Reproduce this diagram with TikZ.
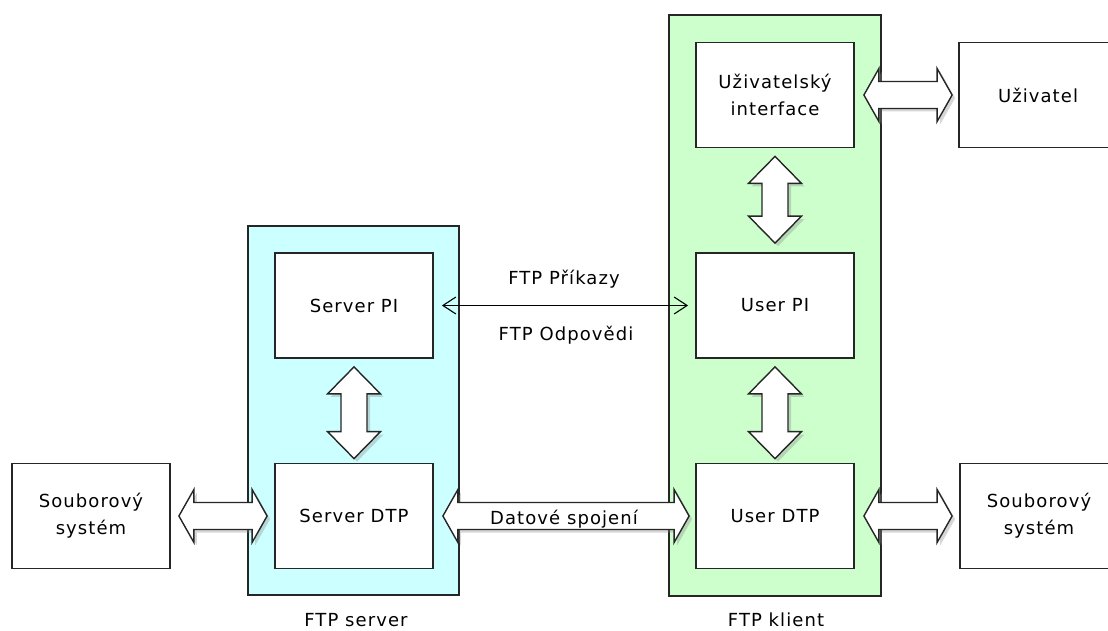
\documentclass[tikz,border=0pt]{standalone}
\usepackage{fontspec}
\setmainfont[LetterSpace=6]{DejaVu Sans}
\usetikzlibrary{arrows.meta,calc,shadows}
\definecolor{srvfill}{RGB}{204,255,255}
\definecolor{clifill}{RGB}{204,255,204}
\tikzset{
  box/.style={draw=black!85, line width=1.8pt, fill=white, minimum width=158pt,
    minimum height=105pt, align=center, inner sep=0pt, font=\fontsize{18}{27}\selectfont},
  grp/.style={draw=black!85, line width=1.7pt, inner sep=0pt},
  fat/.style={draw=black!85, line width=1.4pt, fill=white, line join=miter,
    drop shadow={shadow xshift=3pt, shadow yshift=-3pt, opacity=0.35, fill=black!45}},
  thinarrow/.style={draw=black, line width=1.1pt,
    {Straight Barb[length=13pt,width=17pt]}-{Straight Barb[length=13pt,width=17pt]}},
  lab/.style={font=\fontsize{18}{24}\selectfont, inner sep=0pt, anchor=base},
}
\newcommand\fatH[2]{\draw[fat] let \p1=#1, \p2=#2 in
  (\x1,\y1) -- (\x1+15pt,\y1+26.5pt) -- (\x1+15pt,\y1+13.5pt) -- (\x2-15pt,\y1+13.5pt)
  -- (\x2-15pt,\y1+26.5pt) -- (\x2,\y1) -- (\x2-15pt,\y1-26.5pt) -- (\x2-15pt,\y1-13.5pt)
  -- (\x1+15pt,\y1-13.5pt) -- (\x1+15pt,\y1-26.5pt) -- cycle;}
\newcommand\fatV[2]{\draw[fat] let \p1=#1, \p2=#2 in
  (\x1,\y1) -- (\x1+26.5pt,\y1-27pt) -- (\x1+13pt,\y1-27pt) -- (\x1+13pt,\y2+27pt)
  -- (\x1+26.5pt,\y2+27pt) -- (\x1,\y2) -- (\x1-26.5pt,\y2+27pt) -- (\x1-13pt,\y2+27pt)
  -- (\x1-13pt,\y1-27pt) -- (\x1-26.5pt,\y1-27pt) -- cycle;}
\begin{document}
\begin{tikzpicture}[x=1pt,y=1pt]
\useasboundingbox[fill=white] (0,0) rectangle (1108,-631);
% groups
\node[grp, fill=srvfill, minimum width=211pt, minimum height=369pt] (srv) at (353.5,-410.5) {};
\node[grp, fill=clifill, minimum width=212pt, minimum height=581pt] (cli) at (775,-305.5) {};
% boxes
\node[box] (sfsL) at (91,-516) {Souborový\\systém};
\node[box] (srvpi) at (354,-305.5) {Server PI};
\node[box] (srvdtp) at (354,-516) {Server DTP};
\node[box] (ui) at (775,-95) {Uživatelský\\interface};
\node[box] (upi) at (775,-305.5) {User PI};
\node[box] (udtp) at (775,-516) {User DTP};
\node[box] (user) at (1038,-95) {Uživatel};
\node[box] (sfsR) at (1039,-516) {Souborový\\systém};
% fat arrows
\fatH{($(sfsL.east)+(8,0)$)}{($(srvdtp.west)-(7,0)$)}
\fatH{($(srvdtp.east)+(9,0)$)}{($(udtp.west)-(6,0)$)}
\fatH{($(ui.east)+(9,0)$)}{($(user.west)-(6,0)$)}
\fatH{($(udtp.east)+(9,0)$)}{($(sfsR.west)-(7,0)$)}
\fatV{($(srvpi.south)-(0,8)$)}{($(srvdtp.north)+(0,4)$)}
\fatV{($(ui.south)-(0,8)$)}{($(upi.north)+(0,9)$)}
\fatV{($(upi.south)-(0,8)$)}{($(udtp.north)+(0,4)$)}
% thin arrow
\draw[thinarrow] ($(srvpi.east)+(8,0)$) -- ($(upi.west)-(7,0)$);
% labels
\node[lab] (cmd) at (564,-284) {FTP Příkazy};
\node[lab] (rep) at (566,-340) {FTP Odpovědi};
\node[lab] (data) at (564,-524) {Datové spojení};
\node[lab] (lsrv) at (356,-626) {FTP server};
\node[lab] (lcli) at (776,-626) {FTP klient};
\end{tikzpicture}
\end{document}
